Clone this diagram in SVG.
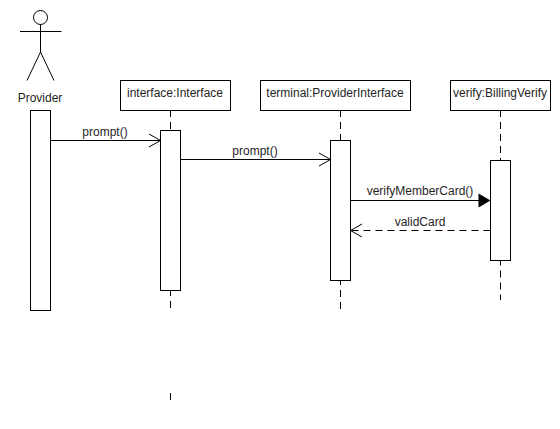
<svg xmlns="http://www.w3.org/2000/svg" width="560" height="429" viewBox="0 0 560 429">
<defs>
<marker id="open" markerUnits="userSpaceOnUse" markerWidth="14" markerHeight="14" refX="11.5" refY="7" orient="auto" overflow="visible"><path d="M0 0.5L11.5 7L0 13.5" fill="none" stroke="#000" stroke-width="1"/></marker>
<marker id="solid" markerUnits="userSpaceOnUse" markerWidth="14" markerHeight="14" refX="12" refY="7" orient="auto" overflow="visible"><path d="M0 0L12 7L0 14Z" fill="#000"/></marker>
</defs>
<style>
rect{fill:#fff;stroke:#000;stroke-width:1}
line,.s{fill:none;stroke:#000;stroke-width:1}
.l{stroke-dasharray:7 5}
text{font-family:"Liberation Sans",Arial,sans-serif;font-size:12px;fill:#1f1f1f;text-anchor:middle}
</style>
<rect width="560" height="429" style="stroke:none"/>
<g id="lifelines">
<line class="l" x1="170.5" y1="110" x2="170.5" y2="130.5"/>
<line class="l" x1="170.5" y1="289" x2="170.5" y2="308"/>
<line x1="170.5" y1="393" x2="170.5" y2="400"/>
<line class="l" x1="340.5" y1="110" x2="340.5" y2="140.5"/>
<line class="l" x1="340.5" y1="278" x2="340.5" y2="310"/>
<line class="l" x1="500.5" y1="110" x2="500.5" y2="160.5"/>
<line class="l" x1="500.5" y1="258.5" x2="500.5" y2="300"/>
</g>
<g id="actor-provider">
<circle class="s" cx="40.5" cy="17.5" r="7"/>
<path class="s" d="M40.5 24.5V52M20 31.5H61.5M27 80.5L40.5 52L54 80.5"/>
<text x="40" y="102">Provider</text>
<rect x="30.5" y="110.5" width="20" height="200"/>
</g>
<g id="node-interface">
<rect x="120.5" y="80.5" width="110" height="30"/>
<text x="175" y="97">interface:Interface</text>
<rect x="160.5" y="130.5" width="20" height="160"/>
</g>
<g id="node-terminal">
<rect x="260.5" y="80.5" width="150" height="30"/>
<text x="335" y="97">terminal:ProviderInterface</text>
<rect x="330.5" y="140.5" width="20" height="140"/>
</g>
<g id="node-verify">
<rect x="450.5" y="80.5" width="100" height="30"/>
<text x="500" y="97">verify:BillingVerify</text>
<rect x="490.5" y="160.5" width="20" height="100"/>
</g>
<g id="connectors">
<line x1="50.5" y1="140.5" x2="160.5" y2="140.5" marker-end="url(#open)"/>
<line x1="180.5" y1="159.5" x2="330.5" y2="159.5" marker-end="url(#open)"/>
<line x1="350.5" y1="200.5" x2="490.5" y2="200.5" marker-end="url(#solid)"/>
<line class="l" x1="490.5" y1="230.5" x2="350.5" y2="230.5" marker-end="url(#open)"/>
<text x="105" y="136">prompt()</text>
<text x="255" y="155">prompt()</text>
<text x="420" y="195">verifyMemberCard()</text>
<text x="420" y="226">validCard</text>
</g>
</svg>
